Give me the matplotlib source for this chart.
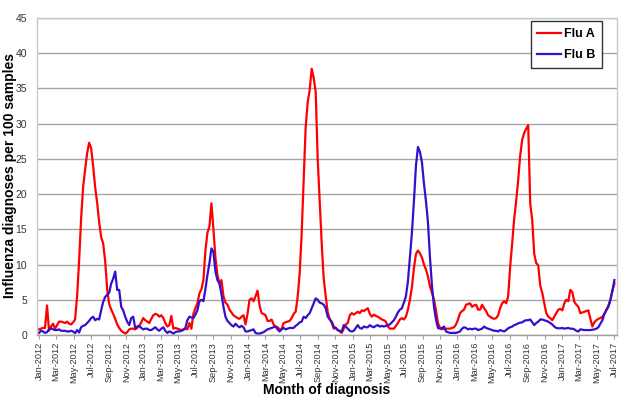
import matplotlib
matplotlib.use("Agg")
import matplotlib.pyplot as plt
import matplotlib.dates as mdates
import pandas as pd

plt.rcParams['font.family'] = ['Liberation Sans', 'DejaVu Sans']

start_date = "2012-01-01"

flu_a = [
    0.8, 0.9, 1.0, 1.0, 4.2, 0.6, 1.2, 1.6, 0.9, 1.4,
    1.9, 1.9, 1.8, 1.7, 1.9, 1.6, 1.5, 1.8, 2.2, 5.5,
    10.5, 16.5, 21.0, 23.5, 25.8, 27.3, 26.5, 24.0, 21.0, 18.8,
    16.0, 13.9, 13.0, 10.5, 6.5, 4.4, 3.6, 3.0, 2.3, 1.5,
    1.0, 0.6, 0.4, 0.2, 0.4, 0.8, 0.9, 0.9, 0.8, 1.0,
    1.3, 1.8, 2.4, 2.1, 1.9, 1.7, 2.3, 2.8, 3.0, 2.9,
    2.6, 2.8, 2.4, 1.7, 1.2, 1.4, 2.7, 0.9, 1.0, 0.9,
    0.8, 0.7, 0.8, 0.9, 0.8, 1.7, 0.9, 3.0, 3.8, 4.5,
    5.9, 6.5, 7.8, 12.0, 14.5, 15.4, 18.7, 15.0, 11.0, 8.5,
    7.3, 7.8, 5.5, 4.6, 4.3, 3.6, 3.2, 2.8, 2.6, 2.4,
    2.3, 2.6, 2.8, 1.5, 3.0, 5.0, 5.2, 4.8, 5.5, 6.3,
    4.2, 3.1, 3.0, 2.8, 2.0, 2.0, 2.2, 1.5, 1.2, 1.1,
    0.8, 0.8, 1.7, 1.8, 1.9, 2.0, 2.4, 3.0, 3.3, 5.4,
    8.7, 14.4, 22.0, 29.5, 33.0, 34.8, 37.8, 36.5, 34.5, 25.0,
    19.0, 13.0, 8.0, 5.5, 3.2, 2.3, 1.7, 0.9, 1.0, 0.7,
    0.5, 0.3, 0.9, 1.5, 1.7, 2.8, 3.1, 2.9, 3.1, 3.3,
    3.1, 3.5, 3.4, 3.6, 3.8, 3.0, 2.6, 2.9, 2.7, 2.6,
    2.4, 2.2, 2.1, 1.9, 1.2, 0.9, 0.9, 0.9, 1.3, 1.7,
    2.2, 2.4, 2.2, 2.6, 3.6, 5.0, 6.8, 9.5, 11.5, 12.0,
    11.6, 11.0, 10.0, 9.3, 8.3, 6.9, 6.0, 5.0, 3.5, 1.7,
    1.0, 0.8, 0.9, 0.9, 0.9, 0.9, 1.0, 1.1, 1.5, 2.2,
    3.1, 3.4, 3.6, 4.3, 4.4, 4.5, 4.0, 4.2, 4.3, 3.6,
    3.6, 4.3, 3.8, 3.4, 2.8, 2.6, 2.4, 2.3, 2.4, 2.8,
    3.8, 4.5, 4.8, 4.5, 5.5, 9.7, 13.0, 16.5, 19.0, 22.0,
    25.5, 27.7, 28.7, 29.3, 29.8, 18.7, 16.3, 11.5, 10.2, 9.9,
    7.0, 6.0, 4.5, 3.1, 2.6, 2.4, 2.1, 2.6, 3.1, 3.6,
    3.7, 3.5, 4.5, 5.0, 4.8, 6.4, 6.1, 4.7, 4.3, 4.0,
    3.1, 3.2, 3.3, 3.4, 3.5, 2.3, 1.2, 1.8, 2.1, 2.3,
    2.4, 2.6, 3.0, 3.5, 4.2, 5.0, 6.3, 7.3,
]

flu_b = [
    0.3, 0.6, 0.5, 0.3, 0.4, 0.8, 0.95, 0.8, 0.7, 0.7,
    0.8, 0.6, 0.6, 0.6, 0.5, 0.5, 0.6, 0.5, 0.25, 0.7,
    0.35, 1.1, 1.3, 1.4, 1.7, 2.0, 2.4, 2.6, 2.1, 2.3,
    2.2, 3.5, 4.7, 5.4, 5.7, 6.0, 7.3, 8.0, 9.0, 6.4,
    6.4, 4.0, 3.5, 2.6, 1.9, 1.4, 2.4, 2.6, 0.95, 1.2,
    1.3, 1.0, 0.8, 0.9, 0.9, 0.7, 0.7, 0.9, 1.1, 0.8,
    0.6, 0.9, 1.1, 0.6, 0.3, 0.5, 0.4, 0.2, 0.4, 0.5,
    0.5, 0.6, 0.7, 1.0, 2.1, 2.6, 2.5, 2.4, 2.9, 3.5,
    4.8, 5.0, 4.8, 6.5, 8.5, 10.2, 12.3, 11.8, 9.0, 7.8,
    7.3, 5.8, 4.0, 2.6, 2.0, 1.7, 1.4, 1.2, 1.6, 1.3,
    1.1, 1.3, 1.1, 0.5, 0.5, 0.6, 0.7, 0.8, 0.3, 0.2,
    0.2, 0.3, 0.4, 0.6, 0.8, 0.9, 1.0, 1.1, 1.2, 0.8,
    0.5, 0.8, 1.0, 0.8, 0.9, 1.0, 1.0, 1.0, 1.3, 1.5,
    1.8, 1.9, 2.6, 2.4, 2.8, 3.1, 3.8, 4.5, 5.2, 5.0,
    4.6, 4.5, 4.3, 3.8, 2.6, 2.2, 1.9, 1.2, 1.0, 0.7,
    0.6, 0.5, 1.4, 1.2, 0.9, 0.6, 0.5, 0.6, 1.0, 1.4,
    1.0, 0.9, 1.2, 1.1, 1.1, 1.4, 1.2, 1.1, 1.3, 1.4,
    1.2, 1.3, 1.2, 1.3, 1.4, 1.5, 1.8, 2.1, 2.6, 3.2,
    3.6, 3.8, 4.6, 5.5, 7.6, 11.0, 14.5, 19.0, 24.0, 26.7,
    26.0, 24.5, 21.5, 19.0, 16.0, 11.0, 7.0, 4.0, 2.2, 1.0,
    0.9, 1.0, 1.2, 0.5, 0.4, 0.3, 0.3, 0.3, 0.3, 0.4,
    0.5, 0.9, 1.1, 1.0, 0.8, 0.9, 0.8, 0.9, 0.9, 0.7,
    0.8, 0.9, 1.2, 1.0, 0.9, 0.8, 0.7, 0.6, 0.6, 0.5,
    0.7, 0.6, 0.5, 0.7, 0.95, 1.1, 1.2, 1.4, 1.5, 1.65,
    1.75, 1.8, 2.0, 2.1, 2.1, 2.2, 1.8, 1.4, 1.7, 1.9,
    2.2, 2.2, 2.1, 2.0, 1.9, 1.7, 1.5, 1.2, 1.0, 0.95,
    0.95, 1.0, 0.9, 0.95, 1.0, 0.9, 0.9, 0.8, 0.6, 0.5,
    0.8, 0.75, 0.7, 0.7, 0.7, 0.7, 0.75, 0.8, 0.9, 1.1,
    1.6, 2.1, 3.0, 3.6, 4.0, 5.0, 6.3, 7.8,
]

y_ticks = [0, 5, 10, 15, 20, 25, 30, 35, 40, 45]
series_labels = ["Flu A", "Flu B"]
y_title = "Influenza diagnoses per 100 samples"
x_title = "Month of diagnosis"

dates = pd.date_range(start_date, periods=len(flu_a), freq="7D")

fig = plt.figure(figsize=(6.33, 4.01), dpi=100)
ax = fig.add_axes([37/633, 1 - 335/401, (617-37)/633, (335-18)/401])

ax.plot(dates, flu_a, color="#ff0000", lw=1.6, label=series_labels[0])
ax.plot(dates, flu_b, color="#3311cc", lw=1.6, label=series_labels[1])

ax.set_ylim(0, 45)
ax.set_yticks(y_ticks)
ax.set_xlim(pd.Timestamp("2011-12-25"), pd.Timestamp("2017-07-11"))
ax.xaxis.set_major_locator(mdates.MonthLocator(bymonth=[1, 3, 5, 7, 9, 11]))
ax.xaxis.set_major_formatter(mdates.DateFormatter("%b-%Y"))
for lab in ax.get_xticklabels():
    lab.set_rotation(90)

ax.grid(axis="y", color="#a6a6a6", lw=1.0)
ax.set_axisbelow(True)
for s in ax.spines.values():
    s.set_color("#c8c8c8")
    s.set_linewidth(1.0)
ax.spines["bottom"].set_color("#a0a0a0")

ax.tick_params(axis="y", length=0, pad=7, labelsize=7.5, labelcolor="#333333")
ax.tick_params(axis="x", length=3, color="#a0a0a0", pad=2, labelsize=6.6, labelcolor="#333333")

fig.text(10/633, 1 - 175/401, y_title, rotation=90, ha="center", va="center",
         fontsize=10, fontweight="bold")
fig.text(327/633, 1 - 390/401, x_title, ha="center", va="center",
         fontsize=10, fontweight="bold")

leg = ax.legend(loc="upper right", bbox_to_anchor=(0.974, 0.99), borderaxespad=0,
                fancybox=False, edgecolor="#333333", framealpha=1,
                handlelength=1.9, handletextpad=0.2,
                prop={"weight": "bold", "size": 9}, borderpad=0.55, labelspacing=0.75)
leg.get_frame().set_linewidth(1.0)

fig.savefig("out.png", dpi=100)
